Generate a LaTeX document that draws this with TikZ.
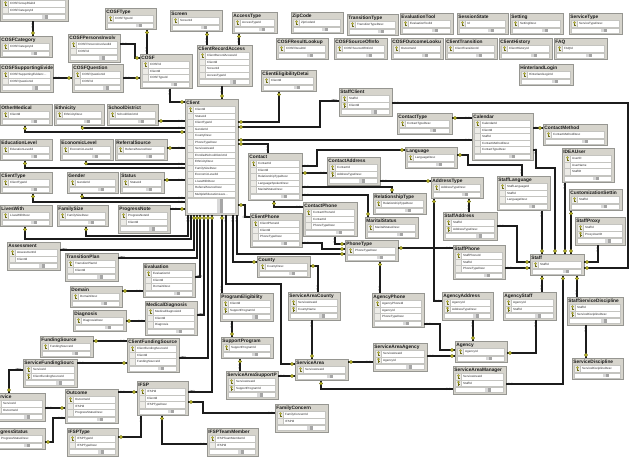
\documentclass[tikz,border=0pt]{standalone}
\usepackage{fontspec}
\setmainfont{Liberation Sans}
\usetikzlibrary{decorations.markings}
\definecolor{tblfill}{RGB}{214,212,204}
\definecolor{tbldraw}{RGB}{150,150,145}
\definecolor{rowdraw}{RGB}{196,196,192}
\definecolor{iconcol}{RGB}{236,235,230}
\definecolor{keyc}{RGB}{196,190,40}
\definecolor{keyd}{RGB}{110,110,20}
\definecolor{linec}{RGB}{28,28,28}
\def\keychar{k}
\newcommand\KeyMark{\fill[keyc,draw=keyd,line width=0.3pt] (0,0) circle (1.7pt);}
\newcommand\ManyMark{\node[transform shape,inner sep=0pt,text=linec,font=\fontsize{4.5}{4.5}\selectfont]{$\infty$};}
\tikzset{
 tblbox/.style={draw=tbldraw, fill=tblfill, line width=0.4pt, inner sep=0pt, outer sep=0pt, rectangle},
 tbltitle/.style={inner sep=0pt, font=\fontsize{4.8}{5}\selectfont\bfseries, text=black!90},
 fieldtxt/.style={inner sep=0pt, font=\fontsize{3}{3.5}\selectfont, text=black!85},
 rowbox/.style={draw=rowdraw, fill=white, line width=0.3pt},
 cn/.style={line width=1.2pt, draw=linec},
 om/.style={cn, postaction={decorate, decoration={markings, mark=at position 3pt with {\KeyMark}, mark=at position -4.5pt with {\ManyMark}}}},
 mo/.style={cn, postaction={decorate, decoration={markings, mark=at position 4.5pt with {\ManyMark}, mark=at position -3pt with {\KeyMark}}}},
 oo/.style={cn, postaction={decorate, decoration={markings, mark=at position 3pt with {\KeyMark}, mark=at position -3pt with {\KeyMark}}}},
}
\newcommand\dbt[8]{%
  \pgfmathsetmacro\tbh{15+6.5*#5+#6}%
  \pgfmathsetmacro\tfy{#3+7.5+6.5*#5+1}%
  \pgfmathsetmacro\tfb{#3+\tbh-1.5}%
  \pgfmathsetmacro\ttx{#2+0.66*#4}%
  \node[tblbox, minimum width=#4pt, minimum height=\tbh pt, anchor=north west] (#1) at (#2,#3) {};
  \node[tbltitle, anchor=base west] at (#2+1.2,#3+5.6) {#7};
  \foreach [count=\ri] \rk/\rf in {#8} {%
    \pgfmathsetmacro\ry{#3+7.5+6.5*(\ri-1)}%
    \draw[rowbox] (#2+2.5,\ry) rectangle (#2+#4-3,\ry+6.5);
    \draw[rowbox, fill=iconcol] (#2+2.5,\ry) rectangle (#2+8.5,\ry+6.5);
    \ifx\rk\keychar
      \fill[keyc, draw=keyd, line width=0.2pt] (#2+5.5,\ry+2.1) circle (1.05pt);
      \draw[keyd, line width=0.45pt] (#2+5.5,\ry+3.1) -- (#2+5.5,\ry+5.5) (#2+5.5,\ry+4.5) -- (#2+6.6,\ry+4.5);
    \fi
    \node[fieldtxt, anchor=west] at (#2+10,\ry+3.3) {\rf};
  }
  \draw[rowbox] (#2+2.5,\tfy) rectangle (#2+#4-3,\tfb);
  \fill[gray!30] (\ttx-3,\tfy+0.7) rectangle (\ttx,\tfb-0.7);
  \fill[gray!70] (\ttx,\tfy+0.7) rectangle (\ttx+3,\tfb-0.7);
}
\begin{document}
\begin{tikzpicture}[x=1pt,y=-1pt]
\useasboundingbox (0,0) rectangle (630,456);
\fill[white] (0,0) rectangle (630,456);
\clip (0,0) rectangle (630,456);
% ---------- tables ----------
\dbt{grp}{0}{-7}{68}{2}{0}{}{k/COSFGroupRiskId,n/COSFCategoryId}
\dbt{cosfcat}{0}{36}{52}{1}{0}{COSFCategory}{k/COSFCategoryId}
\dbt{cosftype}{105}{8}{51}{1}{0}{COSFType}{k/COSFTypeId}
\dbt{screen}{170}{10}{52}{1}{0}{Screen}{k/ScreenId}
\dbt{accesstype}{232}{12}{45}{1}{0}{AccessType}{k/AccessTypeId}
\dbt{zipcode}{291}{12}{52}{1}{0}{ZipCode}{k/ZipCodeId}
\dbt{transtype}{347}{14}{51}{1}{0}{TransitionType}{k/TransitionTypeDesc}
\dbt{evaltool}{400}{13}{53}{1}{0}{EvaluationTool}{k/EvaluationToolId}
\dbt{session}{457}{13}{51}{1}{0}{SessionState}{k/Id}
\dbt{setting}{510}{13}{53}{1}{0}{Setting}{k/SettingDesc}
\dbt{servtype}{569}{13}{53}{1}{0}{ServiceType}{k/ServiceTypeDesc}
\dbt{cosfres}{276}{38}{52}{1}{0}{COSFResultLookup}{k/COSFResultId}
\dbt{cosfsrc}{334}{38}{53}{1}{0}{COSFSourceOfInfo}{k/COSFSourceOfInfoId}
\dbt{cosfout}{391}{38}{52}{1}{0}{COSFOutcomeLooku}{k/OutcomeId}
\dbt{clienttrans}{445}{38}{52}{1}{0}{ClientTransition}{k/ClientTransitionId}
\dbt{clienthist}{499}{38}{53}{1}{0}{ClientHistory}{k/ClientHistoryId}
\dbt{faq}{554}{38}{53}{1}{0}{FAQ}{k/FAQId}
\dbt{hinter}{519}{64}{54}{1}{0}{HinterlandLogin}{k/HinterlandLoginId}
\dbt{cosfpi}{68}{34}{52}{2}{0}{COSFPersonsInvolv}{k/COSFPersonsInvolvedId,n/COSFId}
\dbt{cosfse}{0}{64}{53}{2}{0}{COSFSupportingEvide}{k/COSFSupportingEvidenc\ldots,n/COSFQuestionId}
\dbt{cosfq}{72}{64}{51}{2}{0}{COSFQuestion}{k/COSFQuestionId,n/COSFId}
\dbt{cosf}{140}{54}{52}{3}{0}{COSF}{k/COSFId,n/ClientId,n/COSFTypeId}
\dbt{cra}{197}{45}{55}{4}{0}{ClientRecordAccess}{k/ClientRecordAccessId,n/ClientId,n/ScreenId,n/AccessTypeId}
\dbt{ced}{261}{70}{55}{1}{0}{ClientEligibilityDetai}{k/ClientId}
\dbt{staffclient}{339}{88}{53}{2}{0}{StaffClient}{k/StaffId,k/ClientId}
\dbt{client}{185}{99}{53}{14}{10}{Client}{k/ClientId,n/StatusId,n/ClientTypeId,n/GenderId,n/CountyDesc,n/PhoneTypeDesc,n/ServiceAreaId,n/EnrolledSchoolDistrictId,n/EthnicityDesc,n/FamilySizeDesc,n/EconomicLevelId,n/LivesWithDesc,n/ReferralSourceDesc,n/MultipleEducationLeve\ldots}
\dbt{othermed}{0}{104}{52}{1}{0}{OtherMedical}{k/ClientId}
\dbt{ethnicity}{54}{104}{50}{1}{0}{Ethnicity}{k/EthnicityDesc}
\dbt{schooldist}{107}{104}{51}{1}{0}{SchoolDistrict}{k/SchoolDistrictId}
\dbt{edulevel}{0}{139}{52}{1}{0}{EducationLevel}{k/EducationLevelId}
\dbt{econlevel}{60}{139}{53}{1}{0}{EconomicLevel}{k/EconomicLevelId}
\dbt{referral}{115}{139}{52}{1}{0}{ReferralSource}{k/ReferralSourceDesc}
\dbt{clienttype}{0}{172}{52}{1}{0}{ClientType}{k/ClientTypeId}
\dbt{gender}{67}{172}{51}{1}{0}{Gender}{k/GenderId}
\dbt{status}{120}{172}{44}{1}{0}{Status}{k/StatusId}
\dbt{liveswith}{0}{205}{52}{1}{0}{LivesWith}{k/LivesWithDesc}
\dbt{familysize}{57}{205}{51}{1}{0}{FamilySize}{k/FamilySizeDesc}
\dbt{prognote}{118}{205}{52}{2}{0}{ProgressNote}{k/ProgressNoteId,n/ClientId}
\dbt{assessment}{7}{242}{53}{2}{0}{Assessment}{k/AssessmentId,n/ClientId}
\dbt{transplan}{65}{253}{53}{2}{0}{TransitionPlan}{k/TransitionPlanId,n/ClientId}
\dbt{evaluation}{143}{263}{52}{3}{0}{Evaluation}{k/EvaluationId,n/ClientId,n/DomainDesc}
\dbt{domain}{70}{286}{52}{1}{0}{Domain}{k/DomainDesc}
\dbt{diagnosis}{73}{310}{53}{1}{0}{Diagnosis}{k/DiagnosisDesc}
\dbt{meddiag}{145}{301}{52}{3}{0}{MedicalDiagnosis}{k/MedicalDiagnosisId,n/ClientId,n/Diagnosis}
\dbt{fundsrc}{40}{336}{53}{1}{0}{FundingSource}{k/FundingSourceId}
\dbt{cfs}{127}{338}{52}{3}{0}{ClientFundingSource}{k/ClientFundingSourceId,n/ClientId,n/FundingSourceId}
\dbt{sfs}{23}{359}{54}{2}{0}{ServiceFundingSourc}{k/ServiceId,k/ClientFundingSourceId}
\dbt{service}{-7}{393}{52}{2}{0}{Service}{k/ServiceId,k/OutcomeId}
\dbt{outcome}{65}{389}{53}{3}{0}{Outcome}{k/OutcomeId,n/IFSPId,n/ProgressStatusDesc}
\dbt{progstatus}{-9}{428}{54}{1}{0}{ProgressStatus}{k/ProgressStatusDesc}
\dbt{ifsp}{137}{381}{51}{3}{0}{IFSP}{k/IFSPId,n/ClientId,n/IFSPTypeDesc}
\dbt{ifsptype}{67}{428}{51}{2}{0}{IFSPType}{k/IFSPTypeId,n/IFSPTypeDesc}
\dbt{ifsptm}{207}{428}{51}{2}{0}{IFSPTeamMember}{k/IFSPTeamMemberId,n/IFSPId}
\dbt{famconcern}{275}{404}{53}{2}{0}{FamilyConcern}{k/FamilyConcernId,n/IFSPId}
\dbt{progelig}{220}{293}{53}{2}{0}{ProgramEligibility}{k/ClientId,k/SupportProgramId}
\dbt{supprog}{221}{337}{52}{1}{0}{SupportProgram}{k/SupportProgramId}
\dbt{sasp}{226}{371}{52}{2}{0}{ServiceAreaSupportP}{k/ServiceAreaId,k/SupportProgramId}
\dbt{servarea}{295}{359}{53}{1}{0}{ServiceArea}{k/ServiceAreaId}
\dbt{sacounty}{288}{292}{52}{2}{0}{ServiceAreaCounty}{k/ServiceAreaId,k/CountyName}
\dbt{county}{257}{256}{53}{1}{0}{County}{k/CountyDesc}
\dbt{contact}{248}{153}{54}{5}{0}{Contact}{k/ContactId,n/ClientId,n/RelationshipTypeDesc,n/LanguageSpokenDesc,n/MaritalStatusDesc}
\dbt{clientphone}{250}{213}{52}{3}{0}{ClientPhone}{k/ClientPhoneId,n/ClientId,n/PhoneTypeDesc}
\dbt{contactphone}{303}{202}{54}{3}{0}{ContactPhone}{k/ContactPhoneId,n/ContactId,n/PhoneTypeDesc}
\dbt{contactaddr}{327}{157}{53}{2}{0}{ContactAddress}{k/ContactId,k/AddressTypeDesc}
\dbt{phonetype}{345}{240}{53}{1}{0}{PhoneType}{k/PhoneTypeDesc}
\dbt{reltype}{373}{193}{53}{1}{0}{RelationshipType}{k/RelationshipTypeDesc}
\dbt{marital}{365}{217}{53}{1}{0}{MaritalStatus}{k/MaritalStatusDesc}
\dbt{language}{405}{147}{52}{1}{0}{Language}{k/LanguageDesc}
\dbt{contacttype}{397}{113}{55}{1}{0}{ContactType}{k/ContactTypeDesc}
\dbt{calendar}{472}{113}{61}{5}{0}{Calendar}{k/CalendarId,n/ClientId,n/StaffId,n/ContactMethodDesc,n/ContactTypeDesc}
\dbt{contactmethod}{543}{124}{64}{1}{0}{ContactMethod}{k/ContactMethodDesc}
\dbt{ideauser}{562}{148}{52}{3}{0}{IDEAUser}{k/UserID,n/UserName,n/StaffID}
\dbt{custset}{569}{189}{53}{1}{0}{CustomizationSettin}{k/StaffId}
\dbt{staffproxy}{575}{217}{50}{2}{0}{StaffProxy}{k/StaffId,k/ProxyUserID}
\dbt{addresstype}{431}{177}{52}{1}{0}{AddressType}{k/AddressTypeDesc}
\dbt{stafflang}{497}{176}{53}{3}{0}{StaffLanguage}{k/StaffLanguageId,n/StaffId,n/LanguageDesc}
\dbt{staffaddr}{443}{212}{54}{2}{0}{StaffAddress}{k/StaffId,k/AddressTypeDesc}
\dbt{staffphone}{453}{245}{52}{3}{0}{StaffPhone}{k/StaffPhoneId,n/StaffId,n/PhoneTypeDesc}
\dbt{staff}{530}{254}{54}{1}{0}{Staff}{k/StaffId}
\dbt{agencyphone}{372}{293}{52}{3}{0}{AgencyPhone}{k/AgencyPhoneId,n/AgencyId,n/PhoneTypeDesc}
\dbt{agencyaddr}{442}{292}{51}{2}{0}{AgencyAddress}{k/AgencyId,k/AddressTypeDesc}
\dbt{agencystaff}{503}{292}{53}{2}{0}{AgencyStaff}{k/AgencyId,k/StaffId}
\dbt{ssd}{567}{297}{56}{2}{0}{StaffServiceDiscipline}{k/StaffId,k/ServiceDisciplineDesc}
\dbt{servdisc}{572}{358}{51}{1}{0}{ServiceDiscipline}{k/ServiceDisciplineDesc}
\dbt{agency}{455}{341}{52}{1}{0}{Agency}{k/AgencyId}
\dbt{saa}{373}{343}{54}{2}{0}{ServiceAreaAgency}{k/ServiceAreaId,k/AgencyId}
\dbt{sam}{453}{366}{53}{2}{0}{ServiceAreaManager}{k/ServiceAreaId,k/StaffId}
% ---------- connectors ----------
\draw[mo] (33,0 |- grp.south) -- (33,0 |- cosfcat.north);
\draw[mo] (cosfse.east |- 0,78) -- (cosfq.west |- 0,78);
\draw[mo] (cosfpi.east |- 0,44) -- (135,44) -- (135,58) -- (cosf.west |- 0,58);
\draw[mo] (cosfq.east |- 0,78) -- (cosf.west |- 0,78);
\draw[om] (147,0 |- cosftype.south) -- (147,0 |- cosf.north);
\draw[mo] (170,0 |- cosf.south) -- (170,102) -- (client.west |- 0,102);
\draw[om] (207,0 |- screen.south) -- (207,0 |- cra.north);
\draw[om] (239,0 |- accesstype.south) -- (239,0 |- cra.north);
\draw[mo] (222,0 |- cra.south) -- (222,0 |- client.north);
\draw[oo] (279,0 |- ced.south) -- (279,122) -- (client.east |- 0,122);
\draw[mo] (staffclient.west |- 0,101) -- (320,101) -- (320,127) -- (client.east |- 0,127);
\draw[mo] (staffclient.east |- 0,103) -- (628,103) -- (628,268) -- (staff.east |- 0,268);
\draw[om] (client.east |- 0,140) -- (calendar.west |- 0,140);
\draw[om] (client.east |- 0,144) -- (268,144) -- (268,0 |- contact.north);
\draw[om] (client.east |- 0,205) -- (245,205) -- (245,217) -- (clientphone.west |- 0,217);
\draw[om] (contacttype.east |- 0,118) -- (calendar.west |- 0,118);
\draw[mo] (calendar.east |- 0,128) -- (contactmethod.west |- 0,128);
\draw[mo] (calendar.east |- 0,150) -- (536,150) -- (536,168) -- (555,168) -- (555,0 |- staff.north);
\draw[mo] (contact.east |- 0,166) -- (317,166) -- (317,150) -- (language.west |- 0,150);
\draw[om] (contact.east |- 0,173) -- (contactaddr.west |- 0,173);
\draw[mo] (contactaddr.east |- 0,181) -- (addresstype.west |- 0,181);
\draw[mo] (contact.east |- 0,187) -- (392,187) -- (392,0 |- reltype.north);
\draw[mo] (contact.east |- 0,195) -- (368,195) -- (368,0 |- marital.north);
\draw[om] (274,0 |- contact.south) -- (274,207) -- (contactphone.west |- 0,207);
\draw[mo] (clientphone.east |- 0,243) -- (322,243) -- (322,249) -- (phonetype.west |- 0,249);
\draw[mo] (335,0 |- contactphone.south) -- (335,244) -- (phonetype.west |- 0,244);
\draw[mo] (237,0 |- client.south) -- (237,254) -- (phonetype.west |- 0,254);
\draw[mo] (233,0 |- client.south) -- (233,262) -- (county.west |- 0,262);
\draw[mo] (226,0 |- client.south) -- (226,284) -- (281,284) -- (281,364) -- (servarea.west |- 0,364);
\draw[om] (222,0 |- client.south) -- (222,0 |- progelig.north);
\draw[mo] (232,0 |- progelig.south) -- (232,0 |- supprog.north);
\draw[om] (240,0 |- supprog.south) -- (240,0 |- sasp.north);
\draw[mo] (sasp.east |- 0,376) -- (servarea.west |- 0,376);
\draw[mo] (312,0 |- sacounty.south) -- (312,0 |- servarea.north);
\draw[om] (county.east |- 0,266) -- (318,266) -- (318,0 |- sacounty.north);
\draw[om] (servarea.east |- 0,362) -- (saa.west |- 0,362);
\draw[om] (321,0 |- servarea.south) -- (321,389) -- (sam.west |- 0,389);
\draw[mo] (sam.east |- 0,384) -- (563,384) -- (563,0 |- staff.south);
\draw[om] (542,0 |- staff.south) -- (542,0 |- agencystaff.north);
\draw[om] (577,0 |- staff.south) -- (577,0 |- ssd.north);
\draw[mo] (586,0 |- ssd.south) -- (586,0 |- servdisc.north);
\draw[mo] (473,0 |- agencyaddr.south) -- (473,0 |- agency.north);
\draw[mo] (agencyphone.east |- 0,324) -- (440,324) -- (440,350) -- (agency.west |- 0,350);
\draw[mo] (saa.east |- 0,356) -- (agency.west |- 0,356);
\draw[mo] (536,0 |- agencystaff.south) -- (536,353) -- (agency.east |- 0,353);
\draw[om] (380,0 |- phonetype.south) -- (380,0 |- agencyphone.north);
\draw[om] (434,0 |- addresstype.south) -- (434,301) -- (agencyaddr.west |- 0,301);
\draw[om] (469,0 |- addresstype.south) -- (469,0 |- staffaddr.north);
\draw[om] (phonetype.east |- 0,248) -- (staffphone.west |- 0,248);
\draw[mo] (staffaddr.east |- 0,226) -- (517,226) -- (517,262) -- (staff.west |- 0,262);
\draw[mo] (staffphone.east |- 0,268) -- (staff.west |- 0,268);
\draw[mo] (542,0 |- stafflang.south) -- (542,0 |- staff.north);
\draw[mo] (565,0 |- ideauser.south) -- (565,0 |- staff.north);
\draw[oo] (571,0 |- custset.south) -- (571,0 |- staff.north);
\draw[mo] (598,0 |- staffproxy.south) -- (598,262) -- (staff.east |- 0,262);
\draw[om] (language.east |- 0,155) -- (468,155) -- (468,165) -- (522,165) -- (522,0 |- stafflang.north);
\draw[oo] (25,0 |- othermed.south) -- (25,132) -- (client.west |- 0,132);
\draw[om] (82,0 |- ethnicity.south) -- (82,128) -- (client.west |- 0,128);
\draw[om] (schooldist.east |- 0,121) -- (client.west |- 0,121);
\draw[om] (referral.east |- 0,148) -- (client.west |- 0,148);
\draw[om] (86,0 |- econlevel.south) -- (86,164) -- (client.west |- 0,164);
\draw[om] (25,0 |- edulevel.south) -- (25,168) -- (client.west |- 0,168);
\draw[om] (status.east |- 0,180) -- (client.west |- 0,180);
\draw[om] (82,0 |- gender.south) -- (82,198) -- (client.west |- 0,198);
\draw[om] (33,0 |- clienttype.south) -- (33,202) -- (client.west |- 0,202);
\draw[mo] (prognote.east |- 0,209) -- (client.west |- 0,209);
\draw[mo] (188,0 |- client.south) -- (188,236) -- (86,236) -- (86,0 |- familysize.south);
\draw[mo] (191,0 |- client.south) -- (191,239) -- (25,239) -- (25,0 |- liveswith.south);
\draw[om] (194,0 |- client.south) -- (194,250) -- (assessment.east |- 0,250);
\draw[om] (197,0 |- client.south) -- (197,258) -- (transplan.east |- 0,258);
\draw[om] (200,0 |- client.south) -- (200,277) -- (evaluation.east |- 0,277);
\draw[om] (204,0 |- client.south) -- (204,315) -- (meddiag.east |- 0,315);
\draw[om] (208,0 |- client.south) -- (208,358) -- (cfs.east |- 0,358);
\draw[om] (212,0 |- client.south) -- (212,392) -- (ifsp.east |- 0,392);
\draw[om] (domain.east |- 0,291) -- (evaluation.west |- 0,291);
\draw[om] (diagnosis.east |- 0,321) -- (meddiag.west |- 0,321);
\draw[om] (fundsrc.east |- 0,341) -- (cfs.west |- 0,341);
\draw[mo] (sfs.east |- 0,363) -- (cfs.west |- 0,363);
\draw[mo] (sfs.west |- 0,370) -- (9,370) -- (9,0 |- service.north);
\draw[mo] (service.east |- 0,408) -- (outcome.west |- 0,408);
\draw[om] (progstatus.east |- 0,442) -- (53,442) -- (53,418) -- (outcome.west |- 0,418);
\draw[mo] (outcome.east |- 0,392) -- (ifsp.west |- 0,392);
\draw[om] (ifsptype.east |- 0,437) -- (141,437) -- (141,0 |- ifsp.south);
\draw[om] (162,0 |- ifsp.south) -- (162,444) -- (ifsptm.west |- 0,444);
\draw[om] (ifsp.east |- 0,402) -- (203,402) -- (203,413) -- (famconcern.west |- 0,413);
\end{tikzpicture}
\end{document}
